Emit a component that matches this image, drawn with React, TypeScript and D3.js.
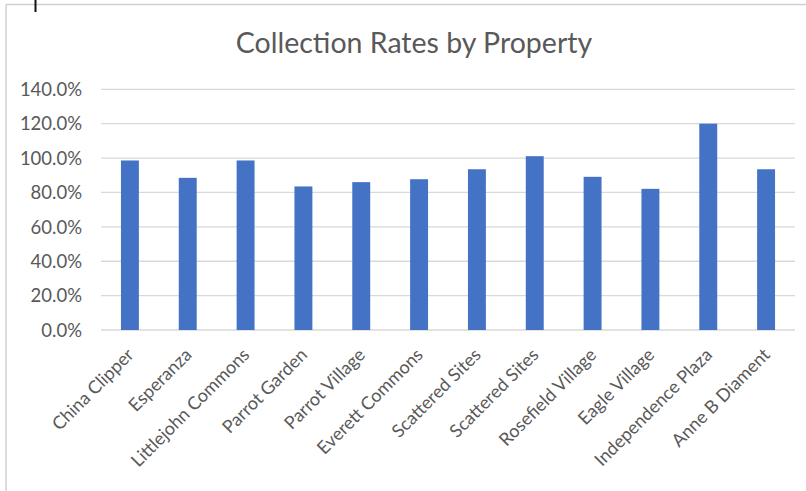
import React from "react";
import * as d3 from "d3";

const categories = [
  "China Clipper",
  "Esperanza",
  "Littlejohn Commons",
  "Parrot Garden",
  "Parrot Village",
  "Everett Commons",
  "Scattered Sites",
  "Scattered Sites ",
  "Rosefield Village",
  "Eagle Village",
  "Independence Plaza",
  "Anne B Diament",
];
const labels = [
  "China Clipper",
  "Esperanza",
  "Littlejohn Commons",
  "Parrot Garden",
  "Parrot Village",
  "Everett Commons",
  "Scattered Sites",
  "Scattered Sites",
  "Rosefield Village",
  "Eagle Village",
  "Independence Plaza",
  "Anne B Diament",
];
const rates = [0.986, 0.885, 0.986, 0.835, 0.86, 0.877, 0.935, 1.011, 0.891, 0.821, 1.2, 0.935];
const yTicks = [0, 0.2, 0.4, 0.6, 0.8, 1.0, 1.2, 1.4];
const title = "Collection Rates by Property";

const W = 806;
const H = 491;
const left = 101;
const right = 795;
const top = 89.3;
const bottom = 330;

export default function App() {
  const x = d3.scaleBand<string>().domain(categories).range([left, right]).paddingInner(0.69).paddingOuter(0.345);
  const y = d3.scaleLinear().domain([0, 1.4]).range([bottom, top]);
  const fmt = d3.format(".1%");
  const font = "Lato, 'Open Sans', sans-serif";
  const textColor = "#595959";
  return (
    <svg
      width={W}
      height={H}
      style={{ position: "absolute", left: 0, top: 0, background: "#fff" }}
      fontFamily={font}
    >
      <rect x={0} y={0} width={W} height={H} fill="#fff" />
      {/* chart frame */}
      <line x1={6} x2={W} y1={4.5} y2={4.5} stroke="#d0d0d0" strokeWidth={1.5} />
      <line x1={6} x2={6} y1={4.5} y2={H} stroke="#d0d0d0" strokeWidth={1.5} />
      <line x1={35.5} x2={35.5} y1={0} y2={12} stroke="#111" strokeWidth={2} />
      <text x={414} y={53} textAnchor="middle" fontSize={28.5} fill={textColor}>
        {title}
      </text>
      {yTicks.map((t) => (
        <g key={t}>
          <line x1={left} x2={right} y1={y(t)} y2={y(t)} stroke="#d9d9d9" strokeWidth={1.3} />
          <text x={82} y={y(t)} dy="0.36em" textAnchor="end" fontSize={18.5} fill={textColor}>
            {fmt(t)}
          </text>
        </g>
      ))}
      {categories.map((c, i) => (
        <rect
          key={c}
          x={x(c)}
          y={y(rates[i])}
          width={x.bandwidth()}
          height={y(0) - y(rates[i])}
          fill="#4472C4"
        />
      ))}
      {categories.map((c, i) => {
        const cx = (x(c) as number) + x.bandwidth() / 2;
        return (
          <text
            key={c}
            transform={`translate(${cx + 5},${356}) rotate(-45)`}
            textAnchor="end"
            fontSize={18}
            fill={textColor}
          >
            {labels[i]}
          </text>
        );
      })}
    </svg>
  );
}
